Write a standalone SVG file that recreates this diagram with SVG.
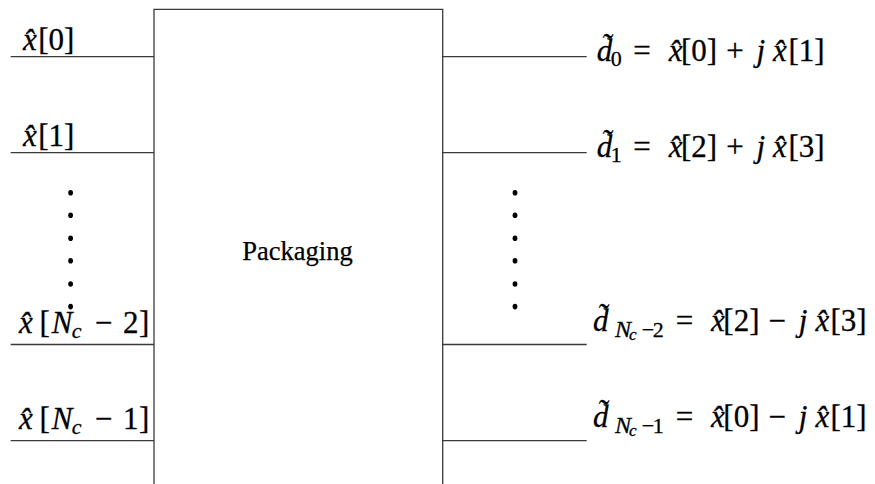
<svg xmlns="http://www.w3.org/2000/svg" width="875" height="484" viewBox="0 0 875 484">
  <style>
    .wire { stroke: #3a3a3a; stroke-width: 1.3; fill: none; }
    .m { font-size: 31px; text-anchor: middle; fill: #000; stroke: #000; stroke-width: 0.3; }
    .i { font-style: italic; }
    .s { font-size: 22px; }
    .sn { font-size: 24px; }
    .ss { font-size: 17px; }
    .dot { fill: #000; }
    .title { font-size: 26.5px; text-anchor: middle; fill: #000; stroke: #000; stroke-width: 0.25; }
  </style>

  <rect width="875" height="484" fill="#fff"/>

  <g font-family="Liberation Serif, serif">
  <!-- block: open at the bottom edge -->
  <g id="packaging">
    <path class="wire" d="M154,490 V9.3 H442.7 V490"/>
    <text class="title" x="297.5" y="260">Packaging</text>
  </g>

  <!-- input and output wires -->
  <g id="connectors">
    <line class="wire" x1="10.7" y1="56.7" x2="154" y2="56.7"/>
    <line class="wire" x1="10.7" y1="152.7" x2="154" y2="152.7"/>
    <line class="wire" x1="10.7" y1="344.5" x2="154" y2="344.5"/>
    <line class="wire" x1="10.7" y1="440.7" x2="154" y2="440.7"/>
    <line class="wire" x1="442.7" y1="56.7" x2="586.7" y2="56.7"/>
    <line class="wire" x1="442.7" y1="152.7" x2="586.7" y2="152.7"/>
    <line class="wire" x1="442.7" y1="344.5" x2="586.7" y2="344.5"/>
    <line class="wire" x1="442.7" y1="440.7" x2="586.7" y2="440.7"/>
  </g>

  <!-- inputs -->
  <g id="in0">
    <text class="m">
      <tspan class="i" x="29.8" y="50">x̂</tspan><tspan x="56.3" y="50">[0]</tspan>
    </text>
  </g>
  <g id="in1">
    <text class="m">
      <tspan class="i" x="29.8" y="146">x̂</tspan><tspan x="56.3" y="146">[1]</tspan>
    </text>
  </g>
  <g id="in2">
    <text class="m">
      <tspan class="i" x="29.8" y="333">x̂</tspan>
      <tspan x="44.6" y="333">[</tspan><tspan class="i" x="62" y="333">N</tspan><tspan class="i s" x="80.5" y="338">c</tspan>
      <tspan x="103.8" y="333">−</tspan><tspan x="130.8" y="333">2</tspan><tspan x="144.2" y="333">]</tspan>
    </text>
  </g>
  <g id="in3">
    <text class="m">
      <tspan class="i" x="29.8" y="429">x̂</tspan>
      <tspan x="44.6" y="429">[</tspan><tspan class="i" x="62" y="429">N</tspan><tspan class="i s" x="80.5" y="434">c</tspan>
      <tspan x="103.8" y="429">−</tspan><tspan x="130.8" y="429">1</tspan><tspan x="144.2" y="429">]</tspan>
    </text>
  </g>

  <!-- outputs -->
  <g id="out0">
    <text class="m">
      <tspan class="i" x="604.5" y="61">d̃</tspan><tspan class="s" x="620" y="66">0</tspan>
      <tspan x="645.9" y="61">=</tspan>
      <tspan class="i" x="675.6" y="61">x̂</tspan><tspan x="703" y="61">[0]</tspan>
      <tspan x="738.9" y="61">+</tspan>
      <tspan class="i" x="764.6" y="61">j</tspan>
      <tspan class="i" x="780" y="61">x̂</tspan><tspan x="806.6" y="61">[1]</tspan>
    </text>
  </g>
  <g id="out1">
    <text class="m">
      <tspan class="i" x="604.5" y="157">d̃</tspan><tspan class="s" x="620" y="162">1</tspan>
      <tspan x="645.9" y="157">=</tspan>
      <tspan class="i" x="675.6" y="157">x̂</tspan><tspan x="703" y="157">[2]</tspan>
      <tspan x="738.9" y="157">+</tspan>
      <tspan class="i" x="764.6" y="157">j</tspan>
      <tspan class="i" x="780" y="157">x̂</tspan><tspan x="806.6" y="157">[3]</tspan>
    </text>
  </g>
  <g id="out2">
    <text class="m">
      <tspan class="i" x="604.5" y="331">d̃</tspan>
      <tspan class="i sn" x="623" y="337">N</tspan><tspan class="i ss" x="636.6" y="340">c</tspan>
      <tspan class="s" x="648" y="337">−</tspan><tspan class="s" x="662" y="337">2</tspan>
      <tspan x="688.3" y="331">=</tspan>
      <tspan class="i" x="717.9" y="331">x̂</tspan><tspan x="745.3" y="331">[2]</tspan>
      <tspan x="781.2" y="331">−</tspan>
      <tspan class="i" x="807" y="331">j</tspan>
      <tspan class="i" x="822.3" y="331">x̂</tspan><tspan x="848.6" y="331">[3]</tspan>
    </text>
  </g>
  <g id="out3">
    <text class="m">
      <tspan class="i" x="604.5" y="427">d̃</tspan>
      <tspan class="i sn" x="623" y="433">N</tspan><tspan class="i ss" x="636.6" y="436">c</tspan>
      <tspan class="s" x="648" y="433">−</tspan><tspan class="s" x="662" y="433">1</tspan>
      <tspan x="688.3" y="427">=</tspan>
      <tspan class="i" x="717.9" y="427">x̂</tspan><tspan x="745.3" y="427">[0]</tspan>
      <tspan x="781.2" y="427">−</tspan>
      <tspan class="i" x="807" y="427">j</tspan>
      <tspan class="i" x="822.3" y="427">x̂</tspan><tspan x="848.6" y="427">[1]</tspan>
    </text>
  </g>
  </g>

  <!-- vertical ellipsis dots -->
  <g id="dots-in">
    <ellipse class="dot" cx="70.6" cy="192.7" rx="2.4" ry="2.8"/>
    <ellipse class="dot" cx="70.6" cy="215.2" rx="2.4" ry="2.8"/>
    <ellipse class="dot" cx="70.6" cy="238.3" rx="2.4" ry="2.8"/>
    <ellipse class="dot" cx="70.6" cy="260.8" rx="2.4" ry="2.8"/>
    <ellipse class="dot" cx="70.6" cy="284" rx="2.4" ry="2.8"/>
    <ellipse class="dot" cx="70.6" cy="306.6" rx="2.4" ry="2.8"/>
  </g>
  <g id="dots-out">
    <ellipse class="dot" cx="515" cy="192.7" rx="2.4" ry="2.8"/>
    <ellipse class="dot" cx="515" cy="215.2" rx="2.4" ry="2.8"/>
    <ellipse class="dot" cx="515" cy="238.3" rx="2.4" ry="2.8"/>
    <ellipse class="dot" cx="515" cy="260.8" rx="2.4" ry="2.8"/>
    <ellipse class="dot" cx="515" cy="284" rx="2.4" ry="2.8"/>
    <ellipse class="dot" cx="515" cy="306.6" rx="2.4" ry="2.8"/>
  </g>
</svg>
